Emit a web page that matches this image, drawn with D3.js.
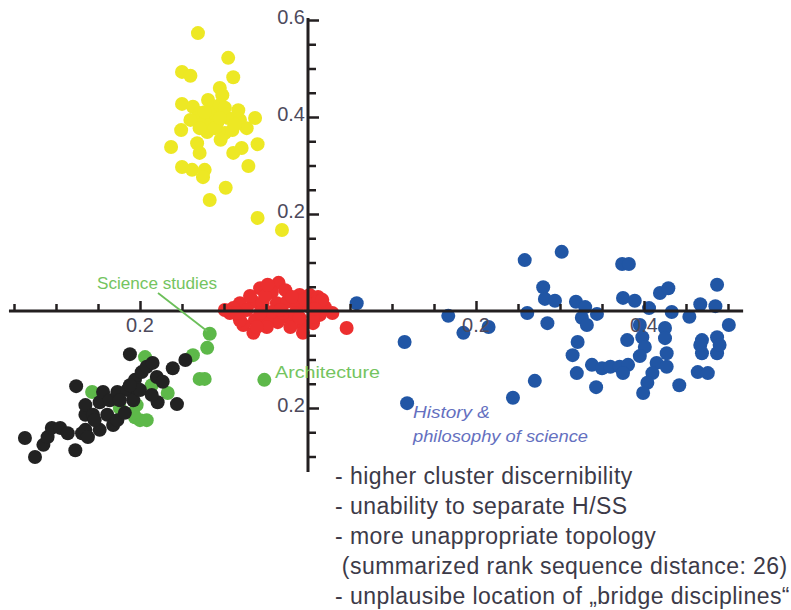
<!DOCTYPE html>
<html>
<head>
<meta charset="utf-8">
<script src="https://cdn.jsdelivr.net/npm/d3@7"></script>
<style>
  body { margin: 0; background: #fff; }
  text { font-family: "Liberation Sans", Arial, sans-serif; }
</style>
</head>
<body>
<div class="stage"></div>
<script>
// cluster coordinates: [x, y]
var yellowPts = [[-0.131,0.573],[-0.095,0.522],[-0.150,0.493],[-0.140,0.485],[-0.089,0.482],[-0.105,0.460],
  [-0.102,0.445],[-0.119,0.435],[-0.150,0.427],[-0.137,0.421],[-0.113,0.419],[-0.129,0.408],[-0.132,0.398],
  [-0.114,0.400],[-0.095,0.398],[-0.081,0.394],[-0.063,0.398],[-0.123,0.388],[-0.108,0.388],[-0.073,0.377],
  [-0.151,0.373],[-0.120,0.369],[-0.099,0.367],[-0.090,0.373],[-0.104,0.353],[-0.132,0.346],[-0.163,0.338],
  [-0.079,0.336],[-0.089,0.326],[-0.060,0.344],[-0.129,0.326],[-0.071,0.299],[-0.150,0.297],[-0.138,0.291],
  [-0.123,0.291],[-0.125,0.276],[-0.098,0.254],[-0.117,0.229],[-0.060,0.192],[-0.031,0.167],[-0.111,0.408],
  [-0.105,0.425],[-0.123,0.410],[-0.099,0.419],[-0.087,0.384],[-0.111,0.377],[-0.140,0.394],[-0.105,0.398],
  [-0.083,0.414],[-0.129,0.377]];

var redPts = [[-0.035,0.058],[-0.057,0.047],[-0.043,0.039],[-0.010,0.033],[0.002,0.033],[0.012,0.029],
  [-0.065,0.019],[-0.081,0.016],[-0.089,0.006],[-0.073,0.002],[-0.054,0.016],[-0.037,0.016],[-0.025,0.019],
  [-0.013,0.008],[0.011,0.019],[0.020,0.008],[0.029,-0.004],[0.014,-0.008],[0.006,-0.025],[-0.006,-0.029],
  [-0.021,-0.019],[-0.036,-0.023],[-0.049,-0.019],[-0.063,-0.019],[-0.077,-0.029],[-0.065,-0.045],
  [-0.081,-0.019],[-0.093,-0.004],[-0.049,-0.033],[-0.006,-0.045],[0.006,-0.012],[0.002,0.008],
  [0.046,-0.035],[-0.030,-0.004],[-0.043,-0.002],[-0.057,-0.004],[-0.015,-0.004],
  [-0.099,0.002],[-0.085,-0.004],[-0.069,0.031],[-0.051,0.031],[-0.027,0.043],[-0.019,0.029],[-0.004,0.023],
  [0.017,0.023],[-0.048,0.054],[-0.033,0.002],[-0.021,-0.033],[-0.061,-0.033],[0.008,0.004],[-0.010,-0.014]];

var bluePts = [[0.058,0.016],[0.115,-0.064],[0.118,-0.190],[0.167,-0.010],[0.185,-0.045],[0.215,-0.033],
  [0.244,-0.179],[0.258,0.105],[0.302,0.122],[0.261,-0.004],[0.280,0.049],[0.282,0.025],[0.294,0.021],
  [0.285,-0.025],[0.319,0.019],[0.330,0.008],[0.326,-0.014],[0.332,-0.029],[0.344,-0.006],[0.321,-0.064],
  [0.315,-0.091],[0.320,-0.128],[0.270,-0.144],[0.343,-0.157],[0.338,-0.111],[0.350,-0.118],[0.360,-0.115],
  [0.371,-0.115],[0.381,-0.111],[0.375,-0.128],[0.374,0.097],[0.382,0.097],[0.375,0.027],[0.389,0.021],
  [0.380,-0.060],[0.398,-0.054],[0.401,-0.074],[0.395,-0.093],[0.406,0.006],[0.419,0.037],[0.429,0.047],
  [0.487,0.054],[0.433,-0.002],[0.454,-0.012],[0.467,0.014],[0.485,0.010],[0.501,-0.029],[0.425,-0.035],
  [0.425,-0.056],[0.427,-0.087],[0.415,-0.107],[0.427,-0.115],[0.410,-0.128],[0.404,-0.148],[0.399,-0.169],
  [0.442,-0.153],[0.469,-0.060],[0.469,-0.087],[0.487,-0.054],[0.487,-0.087],[0.464,-0.126],[0.476,-0.128],
  [0.395,-0.029],[0.467,-0.070],[0.490,-0.070]];

var greenPts = [[-0.117,-0.047],[-0.120,-0.076],[-0.137,-0.091],[-0.194,-0.095],[-0.257,-0.167],
  [-0.224,-0.200],[-0.206,-0.219],[-0.204,-0.194],[-0.200,-0.225],[-0.192,-0.225],[-0.186,-0.153],
  [-0.167,-0.169],[-0.129,-0.140],[-0.123,-0.140],[-0.052,-0.142],[-0.208,-0.210]];

var blackPts = [[-0.337,-0.262],[-0.325,-0.301],[-0.315,-0.276],[-0.310,-0.260],[-0.305,-0.241],
  [-0.295,-0.241],[-0.286,-0.252],[-0.277,-0.287],[-0.276,-0.155],[-0.269,-0.252],[-0.265,-0.245],
  [-0.262,-0.260],[-0.265,-0.214],[-0.265,-0.194],[-0.256,-0.214],[-0.248,-0.188],[-0.248,-0.245],
  [-0.244,-0.167],[-0.239,-0.214],[-0.236,-0.184],[-0.232,-0.235],[-0.227,-0.167],[-0.227,-0.225],
  [-0.218,-0.210],[-0.215,-0.163],[-0.212,-0.089],[-0.208,-0.184],[-0.206,-0.142],[-0.204,-0.159],
  [-0.200,-0.163],[-0.198,-0.126],[-0.192,-0.115],[-0.185,-0.107],[-0.180,-0.136],[-0.179,-0.188],
  [-0.173,-0.146],[-0.186,-0.173],[-0.161,-0.118],[-0.146,-0.101],[-0.156,-0.192],[-0.224,-0.184],
  [-0.254,-0.225],[-0.212,-0.153]];

var xMinorTicks = [-0.35,-0.3,-0.25,-0.15,-0.1,-0.05,0.05,0.1,0.15,0.25,0.3,0.35,0.45,0.5];
var xMajorTicks = [-0.2, 0.2, 0.4];
var xTickLabels = ["0.2", "0.2", "0.4"];
var yMinorTicks = [0.55,0.5,0.45,0.35,0.3,0.25,0.15,0.1,0.05,-0.05,-0.1,-0.15,-0.25,-0.3];
var yMajorTicks = [0.6, 0.4, 0.2, -0.2];
var yTickLabels = ["0.6", "0.4", "0.2", "0.2"];

var notes = ["- higher cluster discernibility", "- unability to separate H/SS",
  "- more unappropriate topology", " (summarized rank sequence distance: 26)",
  "- unplausibe location of \u201Ebridge disciplines\u201C"];

var svg = d3.select(".stage").append("svg").attr("width", 791).attr("height", 610);

var x = d3.scaleLinear().domain([-0.35, 0.5]).range([14, 728]);
var y = d3.scaleLinear().domain([-0.3, 0.6]).range([456.5, 20]);

var axisColor = "#231f20";

// points
var groups = [
  {pts: yellowPts, color: "#ede824"},
  {pts: redPts, color: "#ec2f2f"},
  {pts: bluePts, color: "#2156a5"},
  {pts: greenPts, color: "#5db849"},
  {pts: blackPts, color: "#222222"}
];

groups.forEach(function(g){
  svg.append("g").selectAll("circle").data(g.pts).enter()
    .append("circle")
    .attr("cx", function(d){ return x(d[0]); })
    .attr("cy", function(d){ return y(d[1]); })
    .attr("r", 7)
    .attr("fill", g.color);
});

// axis lines
svg.append("line").attr("x1", x(-0.356)).attr("x2", x(0.518)).attr("y1", y(0)).attr("y2", y(0))
  .attr("stroke", axisColor).attr("stroke-width", 3);
svg.append("line").attr("x1", x(0)).attr("x2", x(0)).attr("y1", y(0.604)).attr("y2", y(-0.332))
  .attr("stroke", axisColor).attr("stroke-width", 3);

// ticks
var xAxisMinor = d3.axisTop(x).tickValues(xMinorTicks).tickSize(7).tickFormat("");
var xAxisMajor = d3.axisTop(x).tickValues(xMajorTicks).tickSize(10).tickFormat("");
var yAxisMinor = d3.axisRight(y).tickValues(yMinorTicks).tickSize(8).tickFormat("");
var yAxisMajor = d3.axisRight(y).tickValues(yMajorTicks).tickSize(11).tickFormat("");

[[xAxisMinor, "translate(0," + y(0) + ")"], [xAxisMajor, "translate(0," + y(0) + ")"],
 [yAxisMinor, "translate(" + x(0) + ",0)"], [yAxisMajor, "translate(" + x(0) + ",0)"]].forEach(function(a){
  var g = svg.append("g").attr("transform", a[1]).call(a[0]);
  g.select(".domain").remove();
  g.selectAll("line").attr("stroke", axisColor).attr("stroke-width", 2.5);
});

// tick labels
svg.append("g").selectAll("text").data(xMajorTicks).enter()
  .append("text")
  .attr("x", function(d){ return x(d); })
  .attr("y", y(0) + 21)
  .attr("text-anchor", "middle")
  .attr("font-size", 20)
  .attr("fill", "#4d4a5c")
  .text(function(d, i){ return xTickLabels[i]; });

svg.append("g").selectAll("text").data(yMajorTicks).enter()
  .append("text")
  .attr("x", x(0) - 3)
  .attr("y", function(d){ return y(d) + 4; })
  .attr("text-anchor", "end")
  .attr("font-size", 20)
  .attr("fill", "#4d4a5c")
  .text(function(d, i){ return yTickLabels[i]; });

// annotations
svg.append("line").attr("x1", 158).attr("y1", 293).attr("x2", 207).attr("y2", 331)
  .attr("stroke", "#6cbf5a").attr("stroke-width", 1.8);
svg.append("text").attr("x", 97).attr("y", 289).attr("font-size", 17)
  .attr("textLength", 120).attr("lengthAdjust", "spacingAndGlyphs")
  .attr("fill", "#74c460").text("Science studies");
svg.append("text").attr("x", 275).attr("y", 378).attr("font-size", 17)
  .attr("textLength", 105).attr("lengthAdjust", "spacingAndGlyphs")
  .attr("fill", "#74c460").text("Architecture");
svg.append("text").attr("x", 413).attr("y", 418).attr("font-size", 17).attr("font-style", "italic")
  .attr("textLength", 77).attr("lengthAdjust", "spacingAndGlyphs")
  .attr("fill", "#6470c0").text("History &");
svg.append("text").attr("x", 413).attr("y", 442).attr("font-size", 17).attr("font-style", "italic")
  .attr("textLength", 175).attr("lengthAdjust", "spacingAndGlyphs")
  .attr("fill", "#6470c0").text("philosophy of science");

svg.append("g").selectAll("text").data(notes).enter()
  .append("text")
  .attr("x", 335)
  .attr("y", function(d, i){ return 484 + i * 30; })
  .attr("font-size", 23)
  .attr("letter-spacing", 0.45)
  .attr("fill", "#3c3a48")
  .style("white-space", "pre")
  .text(function(d){ return d; });
</script>
</body>
</html>
